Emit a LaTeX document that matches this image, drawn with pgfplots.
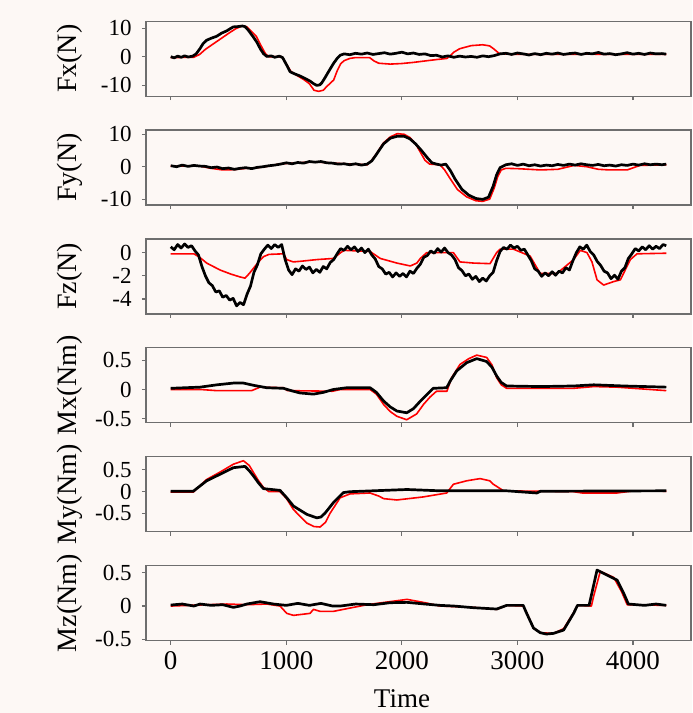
\documentclass[border=0pt]{standalone}
\usepackage{fontspec}
\setmainfont{Liberation Serif}
\usepackage{pgfplots}
\pgfplotsset{compat=1.18}
\definecolor{bg}{HTML}{FDF8F5}
\definecolor{axgray}{HTML}{6E6E6E}
\definecolor{sred}{HTML}{FF0000}

\pgfplotsset{
  panel/.style={
    scale only axis, width=272.5pt, height=37.5pt,
    anchor=south west,
    xmin=-214, xmax=4502,
    xtick={0,1000,2000,3000,4000}, xticklabels={},
    tick pos=left, tick align=outside, major tick length=2pt,
    axis line style={axgray, line width=0.6pt},
    tick style={axgray, line width=0.6pt},
    yticklabel style={font=\fontsize{11.5}{12}\selectfont, inner sep=0pt, xshift=-5pt},
    every axis y label/.style={at={(axis description cs:-0.1394,0.5)}, rotate=90,
      anchor=center, font=\fontsize{14}{15}\selectfont},
  },
  rline/.style={sred, line width=0.8pt, line join=round},
  kline/.style={black, line width=1.35pt, line join=round},
}

\begin{document}
\begin{tikzpicture}
\useasboundingbox (-73pt,-36.15pt) rectangle (273pt,320.35pt);
\fill[bg] (-73pt,-36.15pt) rectangle (273pt,320.35pt);

% Fx
\begin{axis}[panel, at={(0,272.25pt)}, ymin=-13.9, ymax=12.5,
  ytick={-10,0,10}, yticklabels={-10,0,10}, ylabel={Fx(N)}]
\addplot[rline] coordinates {(0,-0.3) (200,-0.2) (250,0.8) (300,2.6) (400,5.4) (500,8.2) (560,9.8) (620,10.9) (660,10.5) (700,8.8) (740,7.2) (780,4.0) (820,1.0) (850,0) (960,0) (1000,-2.5) (1040,-5.2) (1100,-6.8) (1150,-8.0) (1200,-9.5) (1240,-11.8) (1280,-12.2) (1320,-11.8) (1350,-10.5) (1410,-8.2) (1440,-5.0) (1470,-2.5) (1500,-1.4) (1550,-0.6) (1600,-0.3) (1720,-0.3) (1760,-1.5) (1800,-2.3) (1900,-2.6) (2000,-2.4) (2100,-2.0) (2200,-1.5) (2300,-1.0) (2390,-0.6) (2420,0.4) (2450,1.6) (2500,2.8) (2600,3.9) (2700,4.2) (2760,3.8) (2800,2.6) (2840,1.2) (2880,0.9) (3200,0.8) (3600,0.9) (4000,0.8) (4288,0.8)};
\addplot[kline] coordinates {(0,0.0) (30,-0.4) (60,0.2) (90,-0.2) (120,0.3) (150,-0.1) (190,0.2) (220,1.0) (254,2.9) (280,4.6) (311,5.8) (350,6.5) (398,7.2) (440,8.3) (485,9.1) (520,10.0) (542,10.5) (580,10.6) (620,10.8) (643,10.6) (672,9.3) (710,7.2) (744,5.2) (775,2.8) (802,1.1) (831,0.1) (870,0.3) (900,-0.2) (940,0.2) (968,-0.3) (1004,-3.0) (1033,-5.3) (1070,-6.0) (1120,-6.8) (1160,-7.6) (1206,-8.6) (1240,-9.6) (1264,-10.1) (1290,-9.9) (1307,-9.2) (1335,-7.4) (1365,-5.3) (1408,-2.4) (1440,-0.6) (1466,0.5) (1500,1.0) (1550,0.7) (1600,1.2) (1650,0.9) (1700,1.3) (1750,0.8) (1800,1.1) (1850,1.4) (1900,0.9) (1950,1.2) (2000,1.6) (2050,1.0) (2100,1.3) (2150,0.8) (2200,1.0) (2250,0.4) (2300,0.5) (2350,-0.1) (2400,0.3) (2450,-0.2) (2500,0.2) (2550,-0.1) (2600,0.1) (2650,-0.2) (2700,0.3) (2750,0.0) (2800,0.4) (2850,1.0) (2900,1.2) (2950,0.8) (3000,1.3) (3050,1.0) (3100,0.6) (3150,1.1) (3200,0.7) (3250,1.2) (3300,0.9) (3350,1.3) (3400,0.8) (3450,1.1) (3500,1.3) (3550,0.8) (3600,1.2) (3650,1.0) (3700,1.5) (3750,0.9) (3800,1.1) (3850,0.7) (3900,1.0) (3950,1.4) (4000,0.9) (4050,1.2) (4100,0.8) (4150,1.3) (4200,1.0) (4250,1.1) (4288,0.9)};
\end{axis}

% Fy
\begin{axis}[panel, at={(0,217.8pt)}, ymin=-11.85, ymax=11.3,
  ytick={-10,0,10}, yticklabels={-10,0,10}, ylabel={Fy(N)}]
\addplot[rline] coordinates {(0,0.2) (250,0.2) (350,-0.5) (450,-1.0) (550,-0.9) (650,-0.5) (750,-0.3) (850,0.2) (950,0.9) (1050,1.1) (1250,1.5) (1450,1.0) (1700,0.6) (1740,2.0) (1780,4.0) (1840,7.3) (1900,9.2) (1960,10.2) (2020,10.0) (2070,9.0) (2120,7.0) (2160,4.5) (2200,2.0) (2240,0.8) (2330,0.6) (2370,-1.0) (2420,-3.8) (2480,-7.0) (2560,-9.3) (2640,-10.5) (2700,-10.7) (2760,-10.0) (2800,-6.5) (2830,-3.0) (2860,-1.0) (2900,-0.5) (3000,-0.6) (3200,-1.0) (3350,-0.8) (3490,0.4) (3600,0.0) (3700,-0.8) (3800,-1.0) (3950,-1.0) (4060,0.4) (4288,0.6)};
\addplot[kline] coordinates {(0,0.3) (50,0.0) (100,0.5) (150,0.1) (200,0.4) (250,0.2) (300,0.1) (350,-0.3) (400,-0.1) (450,-0.6) (500,-0.4) (550,-0.8) (600,-0.5) (650,-0.3) (700,-0.6) (750,-0.2) (800,0.0) (850,0.3) (900,0.5) (950,0.8) (1000,1.2) (1050,0.9) (1100,1.3) (1150,1.1) (1200,1.6) (1250,1.4) (1300,1.6) (1350,1.2) (1400,1.1) (1450,0.8) (1500,0.9) (1550,0.6) (1600,0.9) (1650,0.5) (1700,0.8) (1740,1.8) (1780,3.8) (1840,7.0) (1900,8.8) (1960,9.4) (2020,9.4) (2070,8.6) (2120,7.0) (2170,5.0) (2220,2.8) (2260,1.2) (2300,0.8) (2340,0.5) (2380,0.8) (2420,-1.2) (2460,-3.8) (2520,-7.0) (2580,-8.8) (2640,-9.8) (2700,-10.1) (2750,-9.4) (2790,-6.0) (2820,-2.5) (2850,-0.3) (2900,0.6) (2950,0.9) (3000,0.4) (3050,0.8) (3100,0.3) (3150,0.6) (3200,0.2) (3250,0.5) (3300,0.3) (3350,0.7) (3400,0.4) (3450,0.8) (3500,0.5) (3550,0.9) (3600,0.6) (3650,0.4) (3700,0.7) (3750,0.3) (3800,0.5) (3850,0.2) (3900,0.6) (3950,0.4) (4000,0.8) (4050,0.5) (4100,0.9) (4150,0.6) (4200,0.8) (4250,0.6) (4288,0.8)};
\end{axis}

% Fz
\begin{axis}[panel, at={(0,163.35pt)}, ymin=-5.3, ymax=1.18,
  ytick={-4,-2,0}, yticklabels={-4,-2,0}, ylabel={Fz(N)}]
\addplot[rline] coordinates {(0,-0.1) (200,-0.1) (250,-0.4) (311,-0.9) (427,-1.5) (520,-1.85) (600,-2.1) (643,-2.2) (680,-1.8) (716,-1.35) (760,-0.8) (802,-0.35) (850,-0.15) (975,-0.1) (1004,-0.6) (1060,-0.8) (1120,-0.75) (1264,-0.6) (1408,-0.5) (1470,0.0) (1500,0.2) (1725,0.1) (1813,-0.5) (1957,-0.9) (2073,-1.15) (2130,-0.9) (2160,-0.5) (2215,0) (2446,0) (2503,-0.8) (2620,-0.9) (2763,-0.95) (2820,0) (2850,0.3) (2966,0.3) (3110,-0.3) (3197,-1.8) (3342,-1.8) (3486,-0.6) (3544,0.2) (3602,0.0) (3645,-0.8) (3689,-2.35) (3746,-2.8) (3833,-2.5) (3891,-2.35) (3977,-0.6) (4035,-0.1) (4288,-0.05)};
\addplot[kline] coordinates {(0,0.5) (30,0.25) (60,0.7) (90,0.4) (120,0.75) (150,0.45) (180,0.6) (210,0.15) (240,-0.2) (270,-1.2) (300,-2.0) (330,-2.6) (360,-2.85) (390,-3.4) (420,-3.3) (450,-3.85) (480,-3.7) (510,-4.1) (540,-3.95) (570,-4.6) (600,-4.3) (630,-4.5) (660,-3.6) (690,-2.9) (720,-1.7) (750,-1.05) (780,-0.1) (810,0.3) (840,0.65) (870,0.35) (900,0.7) (930,0.45) (960,0.7) (990,-0.6) (1020,-1.5) (1050,-1.9) (1080,-1.4) (1110,-1.6) (1140,-1.15) (1170,-1.45) (1200,-1.25) (1230,-1.75) (1260,-1.45) (1290,-1.7) (1320,-1.2) (1350,-1.4) (1380,-0.85) (1410,-0.6) (1440,-0.1) (1470,0.35) (1500,0.2) (1530,0.55) (1560,0.25) (1590,0.5) (1620,0.1) (1650,0.4) (1680,0.0) (1710,0.3) (1740,-0.2) (1770,-0.55) (1800,-1.2) (1830,-1.4) (1860,-1.85) (1890,-1.7) (1920,-2.1) (1950,-1.75) (1980,-2.05) (2010,-1.8) (2040,-2.1) (2070,-1.6) (2100,-1.8) (2130,-1.35) (2160,-1.0) (2190,-0.4) (2220,-0.25) (2250,0.15) (2280,-0.05) (2310,0.35) (2340,0.05) (2370,0.4) (2400,0.0) (2430,-0.2) (2460,-0.6) (2490,-1.3) (2520,-1.55) (2550,-2.0) (2580,-1.85) (2610,-2.3) (2640,-2.05) (2670,-2.5) (2700,-2.2) (2730,-2.45) (2760,-2.0) (2790,-1.7) (2820,-0.7) (2850,0.1) (2880,0.45) (2910,0.3) (2940,0.65) (2970,0.4) (3000,0.55) (3030,0.2) (3060,0.3) (3090,-0.2) (3120,-0.7) (3150,-1.4) (3180,-1.6) (3210,-2.05) (3240,-1.75) (3270,-2.0) (3300,-1.65) (3330,-1.95) (3360,-1.6) (3390,-1.75) (3420,-1.3) (3450,-1.5) (3480,-0.7) (3510,0.0) (3540,0.5) (3570,0.3) (3600,0.65) (3630,0.1) (3660,-0.2) (3690,-0.75) (3720,-1.1) (3750,-1.6) (3780,-1.75) (3810,-2.25) (3840,-1.95) (3870,-2.3) (3900,-1.6) (3930,-1.3) (3960,-0.5) (3990,-0.1) (4020,0.35) (4050,0.15) (4080,0.5) (4110,0.25) (4140,0.6) (4170,0.3) (4200,0.55) (4230,0.35) (4260,0.7) (4288,0.6)};
\end{axis}

% Mx
\begin{axis}[panel, at={(0,108.9pt)}, ymin=-0.574, ymax=0.714,
  ytick={-0.5,0,0.5}, yticklabels={-0.5,0,0.5}, ylabel={Mx(Nm)}]
\addplot[rline] coordinates {(0,0.0) (254,0.0) (398,-0.02) (600,-0.02) (700,-0.02) (773,0.04) (975,0.03) (1010,-0.02) (1400,-0.03) (1470,0.0) (1725,0.0) (1780,-0.08) (1843,-0.26) (1900,-0.38) (1957,-0.46) (2042,-0.52) (2128,-0.42) (2190,-0.25) (2244,-0.13) (2300,-0.03) (2390,-0.03) (2430,0.2) (2503,0.43) (2580,0.53) (2648,0.59) (2734,0.55) (2780,0.42) (2821,0.2) (2860,0.08) (2907,0.02) (3486,0.02) (3660,0.05) (3860,0.04) (4288,-0.02)};
\addplot[kline] coordinates {(0,0.02) (254,0.04) (400,0.08) (542,0.11) (629,0.11) (720,0.07) (831,0.03) (975,0.02) (1060,-0.03) (1120,-0.06) (1235,-0.08) (1320,-0.05) (1408,0.0) (1524,0.03) (1725,0.03) (1780,-0.05) (1843,-0.2) (1900,-0.3) (1957,-0.37) (2042,-0.4) (2100,-0.33) (2160,-0.2) (2215,-0.09) (2272,0.02) (2388,0.03) (2420,0.15) (2475,0.32) (2561,0.46) (2648,0.53) (2734,0.48) (2780,0.38) (2821,0.23) (2860,0.12) (2907,0.06) (3200,0.05) (3486,0.06) (3660,0.08) (3920,0.06) (4288,0.04)};
\end{axis}

% My
\begin{axis}[panel, at={(0,54.45pt)}, ymin=-0.92, ymax=0.80,
  ytick={-0.5,0,0.5}, yticklabels={-0.5,0,0.5}, ylabel={My(Nm)}]
\addplot[rline] coordinates {(0,-0.01) (195,-0.01) (311,0.28) (427,0.45) (542,0.63) (629,0.71) (680,0.6) (716,0.44) (760,0.25) (802,0.1) (850,0.0) (946,0.0) (1000,-0.15) (1062,-0.41) (1178,-0.72) (1240,-0.8) (1293,-0.81) (1340,-0.7) (1380,-0.49) (1466,-0.14) (1552,-0.05) (1725,-0.03) (1800,-0.1) (1843,-0.16) (1957,-0.19) (2186,-0.12) (2388,-0.03) (2446,0.17) (2561,0.25) (2677,0.3) (2760,0.25) (2792,0.17) (2880,0.02) (3486,0.0) (3560,-0.03) (3862,-0.03) (4006,0.02) (4288,0.01)};
\addplot[kline] coordinates {(0,0.01) (195,0.01) (311,0.25) (427,0.4) (542,0.55) (643,0.58) (680,0.48) (716,0.36) (760,0.2) (802,0.07) (946,0.03) (1004,-0.14) (1062,-0.33) (1178,-0.52) (1264,-0.6) (1300,-0.58) (1336,-0.49) (1408,-0.25) (1495,-0.02) (1552,0) (2045,0.05) (2330,0.02) (2907,0.02) (3168,-0.03) (3200,0.01) (4288,0.02)};
\end{axis}

% Mz
\begin{axis}[panel, at={(0,0pt)}, ymin=-0.52, ymax=0.605,
  ytick={-0.5,0,0.5}, yticklabels={-0.5,0,0.5}, ylabel={Mz(Nm)},
  xticklabels={0,1000,2000,3000,4000},
  xticklabel style={font=\fontsize{13.5}{14}\selectfont},
  xlabel={Time},
  every axis x label/.style={at={(axis description cs:0.4697,0)}, anchor=base,
    yshift=-33.5pt, font=\fontsize{13.5}{14}\selectfont}]
\addplot[rline] coordinates {(0,0.0) (485,0.03) (658,0.02) (831,0.03) (946,0.0) (1004,-0.11) (1062,-0.14) (1206,-0.11) (1235,-0.05) (1293,-0.08) (1408,-0.08) (1552,-0.03) (1700,0.02) (2045,0.1) (2200,0.05) (2330,0.0) (2620,-0.02) (2821,-0.05) (2907,0.01) (3050,0.0) (3080,-0.1) (3139,-0.33) (3197,-0.4) (3313,-0.41) (3400,-0.34) (3486,-0.1) (3520,0.01) (3640,0.0) (3660,0.15) (3717,0.52) (3833,0.43) (3900,0.22) (3950,0.02) (4288,0.01)};
\addplot[kline] coordinates {(0,0.015) (100,0.03) (200,0.0) (254,0.03) (350,0.01) (450,0.02) (542,-0.02) (600,0.0) (658,0.03) (773,0.065) (889,0.03) (1000,0.01) (1100,0.04) (1200,0.01) (1300,0.04) (1400,0.0) (1468,0.0) (1600,0.03) (1757,0.02) (1900,0.05) (2045,0.055) (2200,0.03) (2330,0.01) (2450,0.0) (2620,-0.025) (2821,-0.045) (2907,0.01) (3050,0.01) (3080,-0.11) (3139,-0.33) (3197,-0.4) (3250,-0.42) (3313,-0.41) (3400,-0.36) (3486,-0.11) (3520,0.01) (3620,0.01) (3645,0.2) (3689,0.54) (3746,0.49) (3862,0.39) (3920,0.19) (3960,0.03) (4100,0.01) (4200,0.03) (4288,0.01)};
\end{axis}
\end{tikzpicture}
\end{document}
